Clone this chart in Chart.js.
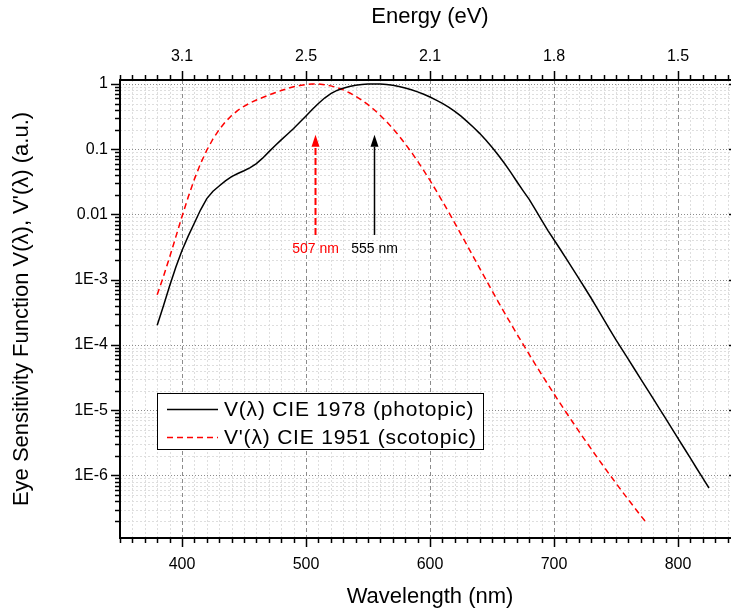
<!DOCTYPE html>
<html>
<head>
<meta charset="utf-8">
<title>Eye sensitivity function</title>
<script src="https://cdn.jsdelivr.net/npm/chart.js@4.4.1/dist/chart.umd.min.js"></script>
<style>
  html, body { margin: 0; padding: 0; background: #fff; }
  /* plot box runs a little past the right edge, like the original export */
  #wrap { width: 731px; height: 614px; overflow: hidden; }
</style>
</head>
<body>
<div id="wrap"><canvas id="chart" width="741" height="614"></canvas></div>
<script>
// === DATA ===
// V(lambda) CIE 1978 (photopic), 5 nm steps
const photopicWavelengths = [
  380, 385, 390, 395, 400, 405, 410, 415, 420, 425, 430, 435, 440, 445, 450, 455,
  460, 465, 470, 475, 480, 485, 490, 495, 500, 505, 510, 515, 520, 525, 530, 535,
  540, 545, 550, 555, 560, 565, 570, 575, 580, 585, 590, 595, 600, 605, 610, 615,
  620, 625, 630, 635, 640, 645, 650, 655, 660, 665, 670, 675, 680, 685, 690, 695,
  700, 705, 710, 715, 720, 725, 730, 735, 740, 745, 750, 755, 760, 765, 770, 775,
  780, 785, 790, 795, 800, 805, 810, 815, 820, 825
];
const photopicValues = [
  2.0e-4, 3.96e-4, 8.0e-4, 1.55e-3, 2.8e-3, 4.66e-3, 7.4e-3, 1.18e-2, 1.75e-2, 2.27e-2,
  2.73e-2, 3.26e-2, 3.79e-2, 4.24e-2, 4.68e-2, 5.21e-2, 6.0e-2, 7.29e-2, 9.10e-2, 0.1128,
  0.139, 0.1699, 0.208, 0.2581, 0.323, 0.4054, 0.503, 0.6081, 0.71, 0.7951,
  0.862, 0.9151, 0.954, 0.98, 0.995, 1.0, 0.995, 0.9786, 0.952, 0.9154,
  0.87, 0.8163, 0.757, 0.6949, 0.631, 0.5668, 0.503, 0.4412, 0.381, 0.321,
  0.265, 0.217, 0.175, 0.1382, 0.107, 8.16e-2, 6.1e-2, 4.46e-2, 3.2e-2, 2.32e-2,
  1.7e-2, 1.19e-2, 8.21e-3, 5.72e-3, 4.10e-3, 2.93e-3, 2.09e-3, 1.48e-3, 1.05e-3, 7.4e-4,
  5.2e-4, 3.61e-4, 2.49e-4, 1.72e-4, 1.2e-4, 8.48e-5, 6.0e-5, 4.24e-5, 3.0e-5, 2.12e-5,
  1.5e-5, 1.06e-5, 7.47e-6, 5.26e-6, 3.70e-6, 2.61e-6, 1.84e-6, 1.29e-6, 9.11e-7, 6.42e-7
];

// V'(lambda) CIE 1951 (scotopic), 5 nm steps
const scotopicWavelengths = [
  380, 385, 390, 395, 400, 405, 410, 415, 420, 425, 430, 435, 440, 445, 450, 455,
  460, 465, 470, 475, 480, 485, 490, 495, 500, 505, 510, 515, 520, 525, 530, 535,
  540, 545, 550, 555, 560, 565, 570, 575, 580, 585, 590, 595, 600, 605, 610, 615,
  620, 625, 630, 635, 640, 645, 650, 655, 660, 665, 670, 675, 680, 685, 690, 695,
  700, 705, 710, 715, 720, 725, 730, 735, 740, 745, 750, 755, 760, 765, 770, 775
];
const scotopicValues = [
  5.89e-4, 1.11e-3, 2.21e-3, 4.53e-3, 9.29e-3, 1.85e-2, 3.48e-2, 6.04e-2, 9.66e-2, 0.1436,
  0.1998, 0.2625, 0.3281, 0.3931, 0.455, 0.513, 0.567, 0.62, 0.676, 0.734,
  0.793, 0.851, 0.904, 0.949, 0.982, 0.998, 0.997, 0.975, 0.935, 0.88,
  0.811, 0.733, 0.65, 0.564, 0.481, 0.402, 0.3288, 0.2639, 0.2076, 0.1602,
  0.1212, 8.99e-2, 6.55e-2, 4.69e-2, 3.32e-2, 2.31e-2, 1.59e-2, 1.09e-2, 7.37e-3, 4.97e-3,
  3.34e-3, 2.24e-3, 1.50e-3, 1.01e-3, 6.77e-4, 4.59e-4, 3.13e-4, 2.15e-4, 1.48e-4, 1.03e-4,
  7.15e-5, 5.01e-5, 3.53e-5, 2.50e-5, 1.78e-5, 1.27e-5, 9.14e-6, 6.6e-6, 4.78e-6, 3.48e-6,
  2.55e-6, 1.87e-6, 1.38e-6, 1.02e-6, 7.6e-7, 5.67e-7, 4.25e-7, 3.2e-7, 2.41e-7, 1.83e-7
];

const seriesNames = ["V(\u03BB) CIE 1978 (photopic)", "V'(\u03BB) CIE 1951 (scotopic)"];

// tick labels
const wavelengthTicks = [400, 500, 600, 700, 800];
const wavelengthLabels = ["400", "500", "600", "700", "800"];
const energyLabels = ["3.1", "2.5", "2.1", "1.8", "1.5"];
const yTickValues = [1, 0.1, 0.01, 1e-3, 1e-4, 1e-5, 1e-6];
const yTickLabels = ["1", "0.1", "0.01", "1E-3", "1E-4", "1E-5", "1E-6"];

// peak markers
const arrowWavelengths = [507, 555];
const arrowLabels = ["507 nm", "555 nm"];
const arrowTipValue = 0.166;
const arrowBaseValue = 4.85e-3;

// axis ranges
const xMin = 350, xMax = 850;
const yMin = 1.1e-7, yMax = 1.15;

// === HELPERS ===
const FONT = '"Liberation Sans", Arial, sans-serif';

function toPoints(xs, ys) {
  return xs.map((w, i) => ({ x: w, y: ys[i] }));
}

function wavelengthTickList() {
  const list = [];
  for (let v = xMin; v <= xMax; v += 10) list.push({ value: v, major: v % 100 === 0 });
  return list;
}

function logTickList() {
  const list = [];
  for (let e = -7; e <= 0; e++) {
    for (let m = 1; m <= 9; m++) {
      const v = m * Math.pow(10, e);
      if (v >= yMin && v <= yMax) list.push({ value: v, major: m === 1 });
    }
  }
  return list;
}

function isDecade(v) {
  const l = Math.log10(v);
  return Math.abs(l - Math.round(l)) < 1e-6;
}

// horizontal axes: keep the plot box exactly where the fixed sizes put it
function fixHorizontal(height) {
  return (s) => {
    s.height = height;
    s.paddingLeft = 0;
    s.paddingRight = 0;
  };
}

// === GRID, TICK MARKS, ARROWS, LEGEND ===
const decorPlugin = {
  id: "decor",
  beforeDatasetsDraw(chart) {
    const { ctx, chartArea: a, scales } = chart;
    ctx.save();
    ctx.beginPath();
    ctx.rect(a.left + 1, a.top + 1, a.right - a.left - 2, a.bottom - a.top - 2);
    ctx.clip();
    ctx.lineWidth = 1;

    const vline = (v) => {
      const px = Math.round(scales.x.getPixelForValue(v)) + 0.5;
      ctx.beginPath(); ctx.moveTo(px, a.top); ctx.lineTo(px, a.bottom); ctx.stroke();
    };
    const hline = (v) => {
      const py = Math.round(scales.y.getPixelForValue(v)) + 0.5;
      ctx.beginPath(); ctx.moveTo(a.left, py); ctx.lineTo(a.right, py); ctx.stroke();
    };

    // minor grid
    ctx.strokeStyle = "#dedede";
    ctx.setLineDash([2, 2]);
    scales.x.ticks.forEach(t => { if (t.value % 100 !== 0) vline(t.value); });
    scales.y.ticks.forEach(t => { if (!isDecade(t.value)) hline(t.value); });

    // major grid
    ctx.strokeStyle = "#8c8c8c";
    ctx.setLineDash([4, 3]);
    scales.x.ticks.forEach(t => { if (t.value % 100 === 0) vline(t.value); });
    ctx.setLineDash([1, 2]);
    scales.y.ticks.forEach(t => { if (isDecade(t.value)) hline(t.value); });
    ctx.restore();
  },

  afterDatasetsDraw(chart) {
    const { ctx, scales: { x, y } } = chart;
    const colors = ["#ff0000", "#000000"];
    arrowWavelengths.forEach((w, i) => {
      const px = Math.round(x.getPixelForValue(w)) + 0.5;
      const yTop = y.getPixelForValue(arrowTipValue);
      const yBot = y.getPixelForValue(arrowBaseValue);
      const headLen = 12, headHalf = 4;
      ctx.save();
      ctx.strokeStyle = colors[i];
      ctx.fillStyle = colors[i];
      ctx.lineWidth = i === 0 ? 2 : 1.5;
      ctx.setLineDash(i === 0 ? [7, 3] : []);
      ctx.beginPath();
      ctx.moveTo(px, yBot);
      ctx.lineTo(px, yTop + headLen);
      ctx.stroke();
      ctx.setLineDash([]);
      ctx.beginPath();
      ctx.moveTo(px, yTop);
      ctx.lineTo(px - headHalf, yTop + headLen);
      ctx.lineTo(px + headHalf, yTop + headLen);
      ctx.closePath();
      ctx.fill();
      ctx.font = "14px " + FONT;
      ctx.textAlign = "center";
      ctx.textBaseline = "middle";
      ctx.fillText(arrowLabels[i], px, yBot + 14);
      ctx.restore();
    });
  },

  afterDraw(chart) {
    const { ctx, chartArea: a, scales } = chart;
    ctx.save();
    ctx.strokeStyle = "#000";
    ctx.lineWidth = 1.5;

    // tick marks (outward)
    scales.x.ticks.forEach(t => {
      const px = Math.round(scales.x.getPixelForValue(t.value)) + 0.5;
      const len = t.value % 100 === 0 ? 9 : 5;
      ctx.beginPath(); ctx.moveTo(px, a.bottom); ctx.lineTo(px, a.bottom + len); ctx.stroke();
      ctx.beginPath(); ctx.moveTo(px, a.top); ctx.lineTo(px, a.top - len); ctx.stroke();
    });
    scales.y.ticks.forEach(t => {
      const py = Math.round(scales.y.getPixelForValue(t.value)) + 0.5;
      const len = isDecade(t.value) ? 9 : 5;
      ctx.beginPath(); ctx.moveTo(a.left, py); ctx.lineTo(a.left - len, py); ctx.stroke();
      if (isDecade(t.value)) {
        ctx.beginPath(); ctx.moveTo(a.right, py); ctx.lineTo(a.right - 11, py); ctx.stroke();
      }
    });

    // legend
    const box = { x: 157.5, y: 393.5, w: 326, h: 56 };
    ctx.fillStyle = "#fff";
    ctx.fillRect(box.x, box.y, box.w, box.h);
    ctx.lineWidth = 1;
    ctx.strokeRect(box.x, box.y, box.w, box.h);
    const rows = [409, 437];
    const styles = [
      { color: "#000000", dash: [] },
      { color: "#ff0000", dash: [6, 4] }
    ];
    ctx.font = "21px " + FONT;
    ctx.letterSpacing = "0.8px";
    ctx.textBaseline = "middle";
    ctx.textAlign = "left";
    seriesNames.forEach((name, i) => {
      ctx.strokeStyle = styles[i].color;
      ctx.setLineDash(styles[i].dash);
      ctx.lineWidth = 1.5;
      ctx.beginPath();
      ctx.moveTo(167, rows[i] + 0.5);
      ctx.lineTo(218, rows[i] + 0.5);
      ctx.stroke();
      ctx.setLineDash([]);
      ctx.fillStyle = "#000";
      ctx.fillText(name, 224, rows[i] + 1);
    });
    ctx.restore();
  }
};

// === CHART ===
new Chart(document.getElementById("chart"), {
  type: "line",
  data: {
    datasets: [
      {
        label: seriesNames[0],
        data: toPoints(photopicWavelengths, photopicValues),
        borderColor: "#000000",
        borderWidth: 1.5,
        pointRadius: 0,
        tension: 0
      },
      {
        label: seriesNames[1],
        data: toPoints(scotopicWavelengths, scotopicValues),
        borderColor: "#ff0000",
        borderWidth: 1.5,
        borderDash: [6, 4],
        pointRadius: 0,
        tension: 0
      }
    ]
  },
  options: {
    responsive: false,
    animation: false,
    devicePixelRatio: 1,
    layout: { padding: { left: 0, right: 1, top: 0, bottom: 0 } },
    plugins: {
      legend: { display: false },
      tooltip: { enabled: false }
    },
    scales: {
      x: {
        type: "linear",
        position: "bottom",
        min: xMin,
        max: xMax,
        afterBuildTicks: (s) => { s.ticks = wavelengthTickList(); },
        afterFit: fixHorizontal(76),
        grid: { display: false, drawTicks: false },
        border: { display: true, color: "#000", width: 2 },
        ticks: {
          autoSkip: false,
          maxRotation: 0,
          padding: 17,
          color: "#000",
          font: { family: FONT, size: 16 },
          callback: (v) => {
            const i = wavelengthTicks.indexOf(v);
            return i >= 0 ? wavelengthLabels[i] : "";
          }
        },
        title: {
          display: true,
          text: "Wavelength (nm)",
          color: "#000",
          font: { family: FONT, size: 22 },
          padding: { bottom: 4 }
        }
      },
      xTop: {
        type: "linear",
        position: "top",
        min: xMin,
        max: xMax,
        afterBuildTicks: (s) => { s.ticks = wavelengthTickList(); },
        afterFit: fixHorizontal(80),
        grid: { display: false, drawTicks: false },
        border: { display: true, color: "#000", width: 2 },
        ticks: {
          autoSkip: false,
          maxRotation: 0,
          padding: 14,
          color: "#000",
          font: { family: FONT, size: 16 },
          callback: (v) => {
            const i = wavelengthTicks.indexOf(v);
            return i >= 0 ? energyLabels[i] : "";
          }
        },
        title: {
          display: true,
          text: "Energy (eV)",
          color: "#000",
          font: { family: FONT, size: 22 },
          padding: { top: 4 }
        }
      },
      y: {
        type: "logarithmic",
        position: "left",
        min: yMin,
        max: yMax,
        afterBuildTicks: (s) => { s.ticks = logTickList(); },
        afterFit: (s) => { s.width = 120; },
        grid: { display: false, drawTicks: false },
        border: { display: true, color: "#000", width: 2 },
        ticks: {
          autoSkip: false,
          padding: 12,
          color: "#000",
          font: { family: FONT, size: 16 },
          callback: (v) => {
            const i = yTickValues.findIndex(t => Math.abs(t - v) / t < 1e-6);
            return i >= 0 ? yTickLabels[i] : "";
          }
        },
        title: {
          display: true,
          text: "Eye Sensitivity Function V(\u03BB), V'(\u03BB) (a.u.)",
          color: "#000",
          font: { family: FONT, size: 22 },
          padding: { top: 9 }
        }
      }
    }
  },
  plugins: [decorPlugin]
});
</script>
</body>
</html>
